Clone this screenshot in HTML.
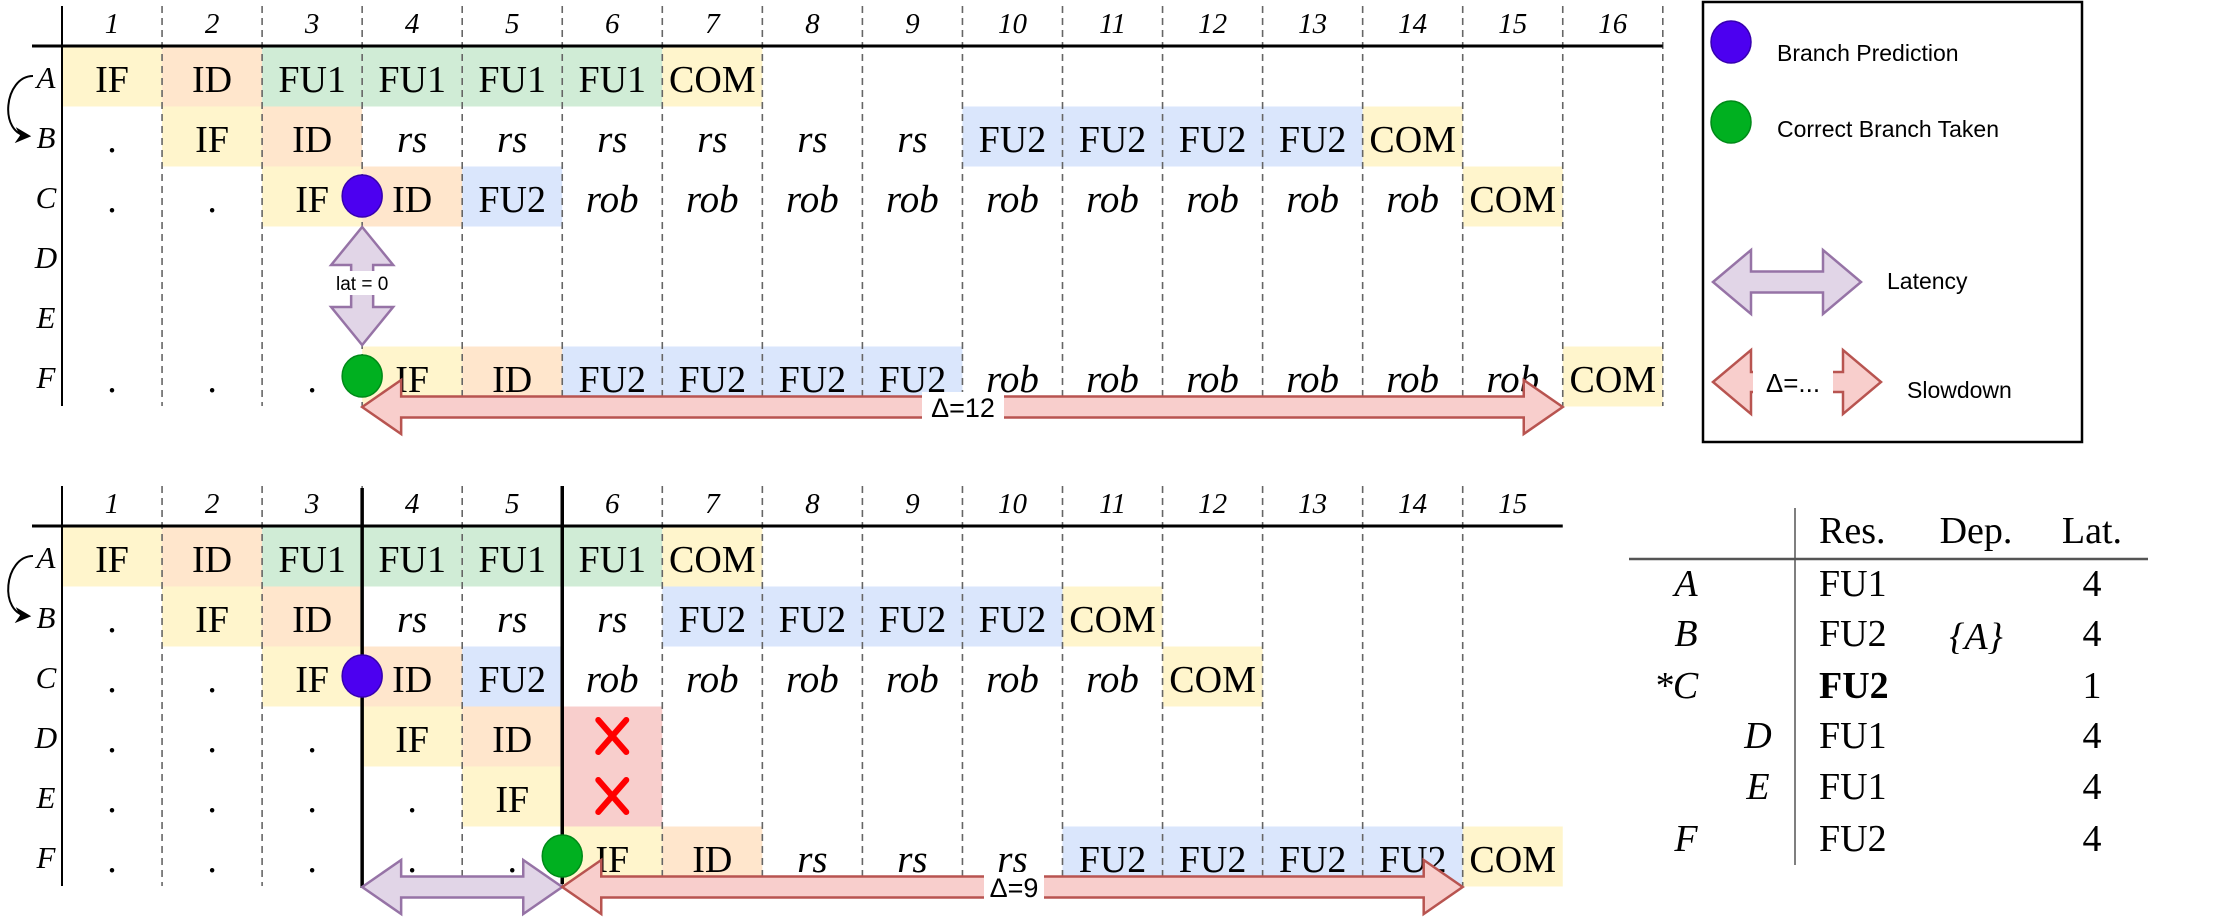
<!DOCTYPE html>
<html><head><meta charset="utf-8"><style>
html,body{margin:0;padding:0;background:#fff;}
svg{display:block;}
</style></head><body>
<svg id="fig" width="2217" height="922" viewBox="0 0 2217 922" xmlns="http://www.w3.org/2000/svg">
<defs>
<marker id="ah" viewBox="0 0 10 10" refX="8" refY="5" markerWidth="8" markerHeight="8" orient="auto"><path d="M0,0 L10,5 L0,10 L3,5 Z" fill="#000"/></marker>
</defs>
</svg>
<script>
// ===== data =====
const rowLabels = ['A','B','C','D','E','F'];
const topCycles = ['1','2','3','4','5','6','7','8','9','10','11','12','13','14','15','16'];
const botCycles = ['1','2','3','4','5','6','7','8','9','10','11','12','13','14','15'];
const topRowA = ['IF','ID','FU1','FU1','FU1','FU1','COM'];
const topRowB = ['.','IF','ID','rs','rs','rs','rs','rs','rs','FU2','FU2','FU2','FU2','COM'];
const topRowC = ['.','.','IF','ID','FU2','rob','rob','rob','rob','rob','rob','rob','rob','rob','COM'];
const topRowD = [];
const topRowE = [];
const topRowF = ['.','.','.','IF','ID','FU2','FU2','FU2','FU2','rob','rob','rob','rob','rob','rob','COM'];
const botRowA = ['IF','ID','FU1','FU1','FU1','FU1','COM'];
const botRowB = ['.','IF','ID','rs','rs','rs','FU2','FU2','FU2','FU2','COM'];
const botRowC = ['.','.','IF','ID','FU2','rob','rob','rob','rob','rob','rob','COM'];
const botRowD = ['.','.','.','IF','ID','X'];
const botRowE = ['.','.','.','.','IF','X'];
const botRowF = ['.','.','.','.','.','IF','ID','rs','rs','rs','FU2','FU2','FU2','FU2','COM'];
const topDelta = 12;
const botDelta = 9;
const topLat = 0;
const tblNames = ['A','B','*C','D','E','F'];
const tblRes = ['FU1','FU2','FU2','FU1','FU1','FU2'];
const tblDep = ['','{A}','','','',''];
const tblLat = ['4','4','1','4','4','4'];

// ===== helpers =====
const NS='http://www.w3.org/2000/svg';
const svg=document.getElementById('fig');
function mk(tag,attrs,parent){const e=document.createElementNS(NS,tag);for(const k in attrs)e.setAttribute(k,attrs[k]);(parent||svg).appendChild(e);return e;}
const X0=62, CW=100.05, RH=60;
function colX(c){return X0+CW*c;}
function colorOf(t){
  if(t==='IF'||t==='COM')return '#fff5cc';
  if(t==='ID')return '#ffe6cc';
  if(t==='FU1')return '#d0ecd6';
  if(t==='FU2')return '#dae6fc';
  if(t==='X')return '#f8cecc';
  return null;
}
function dblArrowH(x1,x2,yc,fill,stroke,name){
  const hl=39,hh=27,sh=10.5;
  const p=[[x1,yc],[x1+hl,yc-hh],[x1+hl,yc-sh],[x2-hl,yc-sh],[x2-hl,yc-hh],[x2,yc],[x2-hl,yc+hh],[x2-hl,yc+sh],[x1+hl,yc+sh],[x1+hl,yc+hh]];
  const e=mk('polygon',{points:p.map(q=>q.join(',')).join(' '),fill:fill,stroke:stroke,'stroke-width':2.5});
  
  
  return e;
}
function txt(x,y,s,attrs,name){
  const e=mk('text',Object.assign({x:x,y:y,'text-anchor':'middle'},attrs));
  e.textContent=s;
  
  
  return e;
}

function drawChart(oy,cycles,rows,prefix){
  const g=mk('g',{});
  
  
  const hy=oy+46;
  const ncol=cycles.length;
  rows.forEach((r,ri)=>{
    r.forEach((t,ci)=>{
      const c=colorOf(t);
      if(c){
        const b=mk('rect',{x:colX(ci),y:hy+RH*ri+0.5,width:CW,height:RH,fill:c},g);
        
        
      }
    });
  });
  for(let i=1;i<=ncol;i++){
    if(i===ncol && prefix==='bottom') break;
    const l=mk('line',{x1:colX(i),x2:colX(i),y1:oy+6,y2:hy+RH*6,stroke:'#666','stroke-width':1.6,'stroke-dasharray':'7,5'},g);
    
    
  }
  const ax=mk('line',{x1:X0,x2:X0,y1:oy+6,y2:hy+RH*6,stroke:'#000','stroke-width':2},g);
  
  
  const hx=mk('line',{x1:32,x2:colX(ncol),y1:hy,y2:hy,stroke:'#000','stroke-width':3},g);
  
  
  cycles.forEach((s,i)=>{
    g.appendChild(txt(colX(i)+CW/2,oy+33,s,{'font-family':'Liberation Serif, serif','font-style':'italic','font-size':29},prefix+'-cycle-label'));
  });
  rowLabels.forEach((s,i)=>{
    g.appendChild(txt(46,hy+RH*i+42,s,{'font-family':'Liberation Serif, serif','font-style':'italic','font-size':31},prefix+'-row-label'));
  });
  const cv=mk('path',{d:`M ${33} ${hy+30} C 4 ${hy+30}, -2 ${hy+88}, 28 ${hy+90}`,fill:'none',stroke:'#000','stroke-width':2,'marker-end':'url(#ah)'},g);
  
  
  rows.forEach((r,ri)=>{
    r.forEach((t,ci)=>{
      const cx=colX(ci)+CW/2, cy=hy+RH*ri;
      if(t==='X'){
        const p=mk('path',{d:`M ${cx-14} ${cy+14} L ${cx+14} ${cy+46} M ${cx+14} ${cy+14} L ${cx-14} ${cy+46}`,stroke:'#ff0000','stroke-width':6,'stroke-linecap':'round'},g);
        
        
        return;
      }
      const it=(t==='rs'||t==='rob');
      g.appendChild(txt(cx,cy+46,t,{'font-family':'Liberation Serif, serif','font-size':it?39:38,'font-style':it?'italic':'normal'},prefix+'-cell-text'));
    });
  });
  return g;
}

drawChart(0,topCycles,[topRowA,topRowB,topRowC,topRowD,topRowE,topRowF],'top');
drawChart(480,botCycles,[botRowA,botRowB,botRowC,botRowD,botRowE,botRowF],'bottom');

(function(){
  const x=colX(3);
  const y1=227,y2=345,hl=38,hh=31,sh=11;
  const p=[[x,y1],[x+hh,y1+hl],[x+sh,y1+hl],[x+sh,y2-hl],[x+hh,y2-hl],[x,y2],[x-hh,y2-hl],[x-sh,y2-hl],[x-sh,y1+hl],[x-hh,y1+hl]];
  const a=mk('polygon',{points:p.map(q=>q.join(',')).join(' '),fill:'#e1d5e7',stroke:'#9673a6','stroke-width':2.5});
  
  
  mk('rect',{x:x-34,y:271,width:68,height:24,fill:'#fff'});
  txt(x,290,'lat = '+topLat,{'font-family':'Liberation Sans, sans-serif','font-size':19},'top-latency-label');
  const c1=mk('ellipse',{cx:x,cy:196,rx:20,ry:21,fill:'#4c00f0',stroke:'#3700b0','stroke-width':1.5});
  
  
  const c2=mk('ellipse',{cx:x,cy:376,rx:20,ry:21,fill:'#00b020',stroke:'#008a18','stroke-width':1.5});
  
  
  const xe=colX(3+topDelta);
  dblArrowH(x,xe,407,'#f8cecc','#b85450','top-slowdown-arrow');
  mk('rect',{x:922,y:392,width:82,height:30,fill:'#fff'});
  txt(963,417,'Δ='+topDelta,{'font-family':'Liberation Sans, sans-serif','font-size':27},'top-slowdown-label');
})();

(function(){
  const xa=colX(3), xb=colX(5);
  const v1=mk('line',{x1:xa,x2:xa,y1:488,y2:888,stroke:'#000','stroke-width':3.5});
  
  
  const v2=mk('line',{x1:xb,x2:xb,y1:486,y2:884,stroke:'#000','stroke-width':3.5});
  
  
  const c1=mk('ellipse',{cx:xa,cy:676,rx:20,ry:21,fill:'#4c00f0',stroke:'#3700b0','stroke-width':1.5});
  
  
  const c2=mk('ellipse',{cx:xb,cy:856,rx:20,ry:21,fill:'#00b020',stroke:'#008a18','stroke-width':1.5});
  
  
  dblArrowH(xa,xb,887,'#e1d5e7','#9673a6','bottom-latency-arrow');
  const xe=colX(5+botDelta);
  dblArrowH(xb,xe,887,'#f8cecc','#b85450','bottom-slowdown-arrow');
  mk('rect',{x:984,y:872,width:60,height:30,fill:'#fff'});
  txt(1014,897,'Δ='+botDelta,{'font-family':'Liberation Sans, sans-serif','font-size':27},'bottom-slowdown-label');
})();

(function(){
  const g=mk('g',{});
  
  
  const b=mk('rect',{x:1703,y:2,width:379,height:440,fill:'#fff',stroke:'#000','stroke-width':2.5},g);
  
  
  const c1=mk('ellipse',{cx:1731,cy:42,rx:20,ry:21,fill:'#4c00f0',stroke:'#3700b0','stroke-width':1.5},g);
  
  
  g.appendChild(txt(1777,61,'Branch Prediction',{'font-family':'Liberation Sans, sans-serif','font-size':23,'text-anchor':'start'},'legend-branch-prediction-label'));
  const c2=mk('ellipse',{cx:1731,cy:122,rx:20,ry:21,fill:'#00b020',stroke:'#008a18','stroke-width':1.5},g);
  
  
  g.appendChild(txt(1777,137,'Correct Branch Taken',{'font-family':'Liberation Sans, sans-serif','font-size':23,'text-anchor':'start'},'legend-correct-branch-label'));
  (function(){
    const x1=1713,x2=1861,yc=282,hl=38,hh=32,sh=10.5;
    const p=[[x1,yc],[x1+hl,yc-hh],[x1+hl,yc-sh],[x2-hl,yc-sh],[x2-hl,yc-hh],[x2,yc],[x2-hl,yc+hh],[x2-hl,yc+sh],[x1+hl,yc+sh],[x1+hl,yc+hh]];
    const e=mk('polygon',{points:p.map(q=>q.join(',')).join(' '),fill:'#e1d5e7',stroke:'#9673a6','stroke-width':2.5},g);
    
    
  })();
  g.appendChild(txt(1887,289,'Latency',{'font-family':'Liberation Sans, sans-serif','font-size':23,'text-anchor':'start'},'legend-latency-label'));
  (function(){
    const x1=1713,x2=1881,yc=382,hl=38,hh=32,sh=10;
    const p=[[x1,yc],[x1+hl,yc-hh],[x1+hl,yc-sh],[x2-hl,yc-sh],[x2-hl,yc-hh],[x2,yc],[x2-hl,yc+hh],[x2-hl,yc+sh],[x1+hl,yc+sh],[x1+hl,yc+hh]];
    const e=mk('polygon',{points:p.map(q=>q.join(',')).join(' '),fill:'#f8cecc',stroke:'#b85450','stroke-width':2.5},g);
    
    
  })();
  mk('rect',{x:1753,y:366,width:80,height:30,fill:'#fff'},g);
  g.appendChild(txt(1793,392,'Δ=...',{'font-family':'Liberation Sans, sans-serif','font-size':26},'legend-slowdown-symbol'));
  g.appendChild(txt(1907,398,'Slowdown',{'font-family':'Liberation Sans, sans-serif','font-size':23,'text-anchor':'start'},'legend-slowdown-label'));
})();

(function(){
  const g=mk('g',{});
  
  
  const f={'font-family':'Liberation Serif, serif','font-size':38};
  const hl=mk('line',{x1:1629,x2:2148,y1:559,y2:559,stroke:'#555','stroke-width':2.5},g);
  
  
  const vl=mk('line',{x1:1795,x2:1795,y1:508,y2:865,stroke:'#555','stroke-width':1.5},g);
  
  
  g.appendChild(txt(1819,543,'Res.',Object.assign({'text-anchor':'start'},f),'table-header-res'));
  g.appendChild(txt(1976,543,'Dep.',f,'table-header-dep'));
  g.appendChild(txt(2092,543,'Lat.',f,'table-header-lat'));
  const ys=[596,646,698,748,799,851];
  const nx=[1686,1686,1676,1758,1758,1686];
  tblNames.forEach((n,i)=>{
    g.appendChild(txt(nx[i],ys[i],n,Object.assign({'font-style':'italic'},f),'table-row-name'));
    g.appendChild(txt(1819,ys[i],tblRes[i],Object.assign({'text-anchor':'start','font-weight':n[0]==='*'?'bold':'normal'},f),'table-row-res'));
    if(tblDep[i]) g.appendChild(txt(1976,ys[i]+3,tblDep[i],Object.assign({'font-style':'italic'},f),'table-row-dep'));
    g.appendChild(txt(2092,ys[i],tblLat[i],f,'table-row-lat'));
  });
})();
</script>
</body></html>
